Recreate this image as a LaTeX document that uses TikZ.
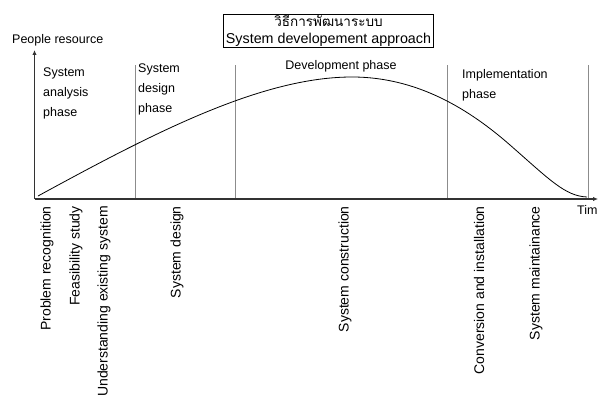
\documentclass[tikz,border=0pt]{standalone}
\usepackage{fontspec}
\setmainfont{Liberation Sans}
\newfontfamily\thaifont[Script=Thai]{Loma}
\usetikzlibrary{arrows.meta}
\begin{document}
\begin{tikzpicture}[x=1pt,y=-1pt,
  axisline/.style={draw=black!80,line width=1.3pt,-{Latex[length=5pt,width=4.5pt]}},
  divider/.style={draw=black!45,line width=0.9pt},
  phaselabel/.style={inner sep=0,align=left,font=\fontsize{12.5}{20}\selectfont},
  tasklabel/.style={inner sep=0,rotate=90,anchor=east,font=\fontsize{14}{16}\selectfont},
  titlebox/.style={draw=black,line width=1pt,inner xsep=2pt,inner ysep=0.5pt,align=center,font=\fontsize{14.3}{16}\selectfont},
  axislabel/.style={inner sep=0,font=\fontsize{12.5}{14}\selectfont}]
\useasboundingbox (0,0) rectangle (599,396);

% axes
\coordinate (origin) at (34.5,199);
\coordinate (ytop) at (34.5,50);
\coordinate (xend) at (598,199);
\draw[axisline] (origin) -- (ytop);
\draw[axisline] (origin) -- (xend);
\node[axislabel,anchor=south west] (ylab) at (12,46) {People resource};
\node[axislabel,anchor=west] (xlab) at (577,210) {Tim};

% phase dividers
\foreach \xx/\nm in {135/d1,235/d2,447/d3,588/d4}{
  \coordinate (\nm top) at (\xx,65);
  \coordinate (\nm bot) at (\xx,198);
  \draw[divider] (\nm top) -- (\nm bot);
}

% effort curve: slow rise, flat top, falling tail
\coordinate (c0) at (38,196);
\coordinate (c1) at (352,77);
\coordinate (c2) at (510,145);
\coordinate (c3) at (587,197);
\draw[black,line width=0.8pt] (c0) .. controls (150,135) and (260,77) .. (c1)
  .. controls (418,77) and (470,110) .. (c2)
  .. controls (550,180) and (565,196) .. (c3);

% title
\node[titlebox] (title) at (328.5,31) {{\thaifont\fontsize{13.5}{15}\selectfont วิธีการพัฒนาระบบ}\\[1.5pt]System developement approach};

% phase names
\node[phaselabel,anchor=north west] (p1) at (43,68) {System\\analysis\\phase};
\node[phaselabel,anchor=north west] (p2) at (138,64) {System\\design\\phase};
\node[phaselabel] (p3) at (341,66) {Development phase};
\node[phaselabel,anchor=north west] (p4) at (462,69) {Implementation\\phase};

% activities along the time axis
\node[tasklabel] (t1) at (47,206) {Problem recognition};
\node[tasklabel] (t2) at (76,206) {Feasibility study};
\node[tasklabel] (t3) at (104,206) {Understanding existing system};
\node[tasklabel] (t4) at (177,206) {System design};
\node[tasklabel] (t5) at (345,206) {System construction};
\node[tasklabel] (t6) at (479,206) {Conversion and installation};
\node[tasklabel] (t7) at (536,206) {System maintainance};
\end{tikzpicture}
\end{document}
